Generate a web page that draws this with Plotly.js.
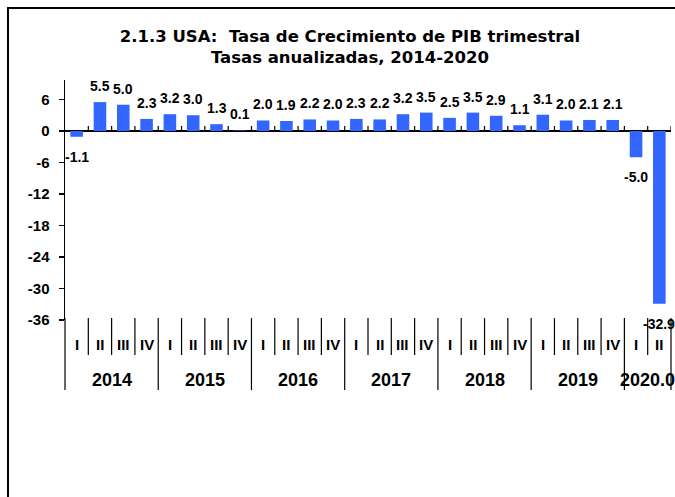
<!DOCTYPE html>
<html><head><meta charset="utf-8">
<script src="https://cdn.plot.ly/plotly-3.0.1.min.js"></script>
<style>
html,body{margin:0;padding:0;background:#fff;overflow:hidden;width:675px;height:497px;}
#wrap{position:relative;width:675px;height:497px;overflow:hidden;}
#chart{position:absolute;left:0;top:0;width:675px;height:497px;}
#frame{position:absolute;left:7px;top:7px;width:720px;height:560px;border-left:2.5px solid #000;border-top:2.5px solid #000;pointer-events:none;}
</style>
</head><body><div id="wrap"><div id="chart"></div><div id="frame"></div></div>
<script>
// ---- data ----
const years = ['2014', '2015', '2016', '2017', '2018', '2019', '2020.0'];
const quarters = ['I', 'II', 'III', 'IV'];
const quartersPerYear = [4, 4, 4, 4, 4, 4, 2];
const growth = [-1.1, 5.5, 5.0, 2.3,
                 3.2, 3.0, 1.3, 0.1,
                 2.0, 1.9, 2.2, 2.0,
                 2.3, 2.2, 3.2, 3.5,
                 2.5, 3.5, 2.9, 1.1,
                 3.1, 2.0, 2.1, 2.1,
                -5.0, -32.9];
const yTicks = [-36, -30, -24, -18, -12, -6, 0, 6];
const titleLines = ['2.1.3 USA:  Tasa de Crecimiento de PIB trimestral', 'Tasas anualizadas, 2014-2020'];

// ---- build categories ----
const cats = [], qLabels = [], yearStart = [];
years.forEach((yr, yi) => {
  yearStart.push(cats.length);
  for (let q = 0; q < quartersPerYear[yi]; q++) {
    cats.push(yr + ' ' + quarters[q]);
    qLabels.push(quarters[q]);
  }
});
const N = cats.length;

const FONT = 'Liberation Sans, Arial, sans-serif';
const shapes = [];
const annotations = [];

// upward tick marks on the zero line at category boundaries
for (let b = 1; b <= N; b++) {
  shapes.push({type: 'line', xref: 'x', yref: 'y', ysizemode: 'pixel', yanchor: 0,
    x0: b - 0.5, x1: b - 0.5, y0: 0, y1: 5, line: {color: '#000', width: 1.2}});
}

// separators in the category label area
const yearBounds = new Set(yearStart.concat([N]));
for (let b = 0; b <= N; b++) {
  const isYear = yearBounds.has(b);
  shapes.push({type: 'line', xref: 'paper', yref: 'paper',
    x0: b / N, x1: b / N, y0: 0.008, y1: isYear ? -0.292 : -0.146,
    line: {color: '#000', width: 1.2}});
}

// quarter labels
cats.forEach((c, i) => {
  annotations.push({xref: 'x', yref: 'paper', x: c, y: -0.104, yanchor: 'middle', xanchor: 'center',
    text: qLabels[i], showarrow: false, font: {family: FONT, size: 15, weight: 'bold', color: '#000'}});
});
// year labels
years.forEach((yr, yi) => {
  const s = yearStart[yi], e = s + quartersPerYear[yi];
  annotations.push({xref: 'paper', yref: 'paper', x: (s + e) / 2 / N, y: -0.25, yanchor: 'middle', xanchor: 'center',
    text: yr, showarrow: false, font: {family: FONT, size: 18, weight: 'bold', color: '#000'}});
});
// data labels
cats.forEach((c, i) => {
  const v = growth[i];
  annotations.push({xref: 'x', yref: 'y', x: c, y: v, yanchor: 'middle', xanchor: 'center',
    yshift: v >= 0 ? 16 : -20, text: v.toFixed(1), showarrow: false,
    font: {family: FONT, size: 14, weight: 'bold', color: '#000'}});
});

const trace = {type: 'bar', x: cats, y: growth, marker: {color: '#3366ff', line: {width: 0}},
  hoverinfo: 'skip'};

const layout = {
  width: 675, height: 497,
  margin: {l: 65, r: 4, t: 80, b: 177, pad: 0},
  paper_bgcolor: '#fff', plot_bgcolor: 'rgba(0,0,0,0)',
  showlegend: false,
  bargap: 0.46,
  title: {text: titleLines.join('<br>'), x: 350 / 675, xanchor: 'center', xref: 'container',
    yref: 'container', y: 1 - 42 / 497, yanchor: 'middle',
    font: {family: 'DejaVu Sans, sans-serif', size: 16.5, weight: 'bold', color: '#000'}},
  xaxis: {type: 'category', range: [-0.5, N - 0.5], showticklabels: false, ticks: '',
    showline: false, showgrid: false, zeroline: false, fixedrange: true},
  yaxis: {range: [-36, 9.71], tickvals: yTicks, ticktext: yTicks.map(String),
    ticks: 'outside', ticklen: 5, tickcolor: '#000', tickwidth: 1.2,
    showline: true, linecolor: '#000', linewidth: 1.5,
    showgrid: false, zeroline: true, zerolinecolor: '#000', zerolinewidth: 1.5,
    tickfont: {family: FONT, size: 15, weight: 'bold', color: '#000'},
    ticklabelstandoff: 6, fixedrange: true},
  shapes: shapes,
  annotations: annotations
};

Plotly.newPlot('chart', [trace], layout, {staticPlot: true, displayModeBar: false});
</script></body></html>
